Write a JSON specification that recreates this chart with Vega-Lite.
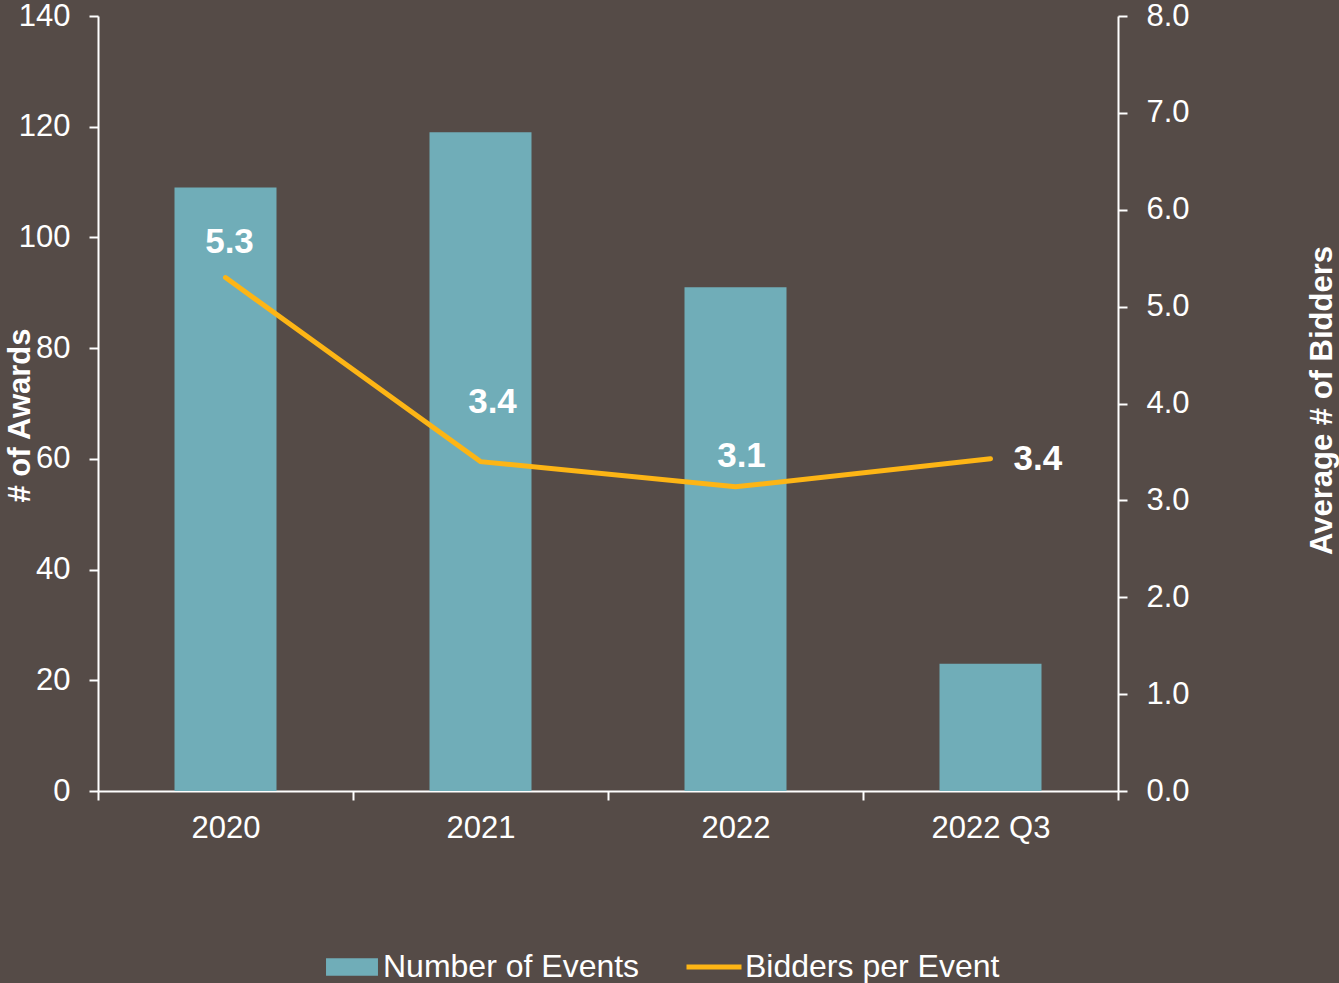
{
  "$schema": "https://vega.github.io/schema/vega-lite/v6.json",
  "width": 1020,
  "height": 775,
  "autosize": "none",
  "padding": {"left": 98, "top": 16, "right": 221, "bottom": 192},
  "background": "#554B47",
  "config": {
    "view": {"stroke": null},
    "font": "Liberation Sans",
    "axis": {
      "domainColor": "#FFFFFF", "domainWidth": 2,
      "tickColor": "#FFFFFF", "tickWidth": 2, "tickSize": 9,
      "labelColor": "#FFFFFF", "labelFont": "Liberation Sans", "labelFontSize": 31,
      "titleColor": "#FFFFFF", "titleFont": "Liberation Sans", "titleFontSize": 31, "titleFontWeight": "bold",
      "grid": false
    },
    "legend": {
      "labelColor": "#FFFFFF", "labelFont": "Liberation Sans", "labelFontSize": 32, "labelLimit": 600
    }
  },
  "data": {
    "values": [
      {"period": "2020", "events": 109, "bidders": 5.3},
      {"period": "2021", "events": 119, "bidders": 3.4},
      {"period": "2022", "events": 91, "bidders": 3.14},
      {"period": "2022 Q3", "events": 23, "bidders": 3.43}
    ]
  },
  "encoding": {
    "x": {
      "field": "period", "type": "nominal", "sort": null,
      "scale": {"paddingInner": 0, "paddingOuter": 0},
      "axis": {"title": null, "labelAngle": 0, "tickBand": "extent", "labelPadding": 13}
    }
  },
  "layer": [
    {
      "mark": {"type": "bar", "width": {"band": 0.4}},
      "encoding": {
        "y": {
          "field": "events", "type": "quantitative",
          "scale": {"domain": [0, 140]},
          "axis": {
            "title": "# of Awards", "values": [0, 20, 40, 60, 80, 100, 120, 140],
            "labelPadding": 19, "titleX": -78, "titleY": 399, "titleAngle": -90,
            "titleBaseline": "middle", "titleAlign": "center"
          }
        },
        "fill": {
          "datum": "Number of Events",
          "scale": {"range": ["#70ADB8"]},
          "legend": {
            "title": null, "orient": "none", "legendX": 238, "legendY": 935,
            "symbolType": "M-3,-1H3V1H-3Z", "symbolSize": 300, "symbolStrokeWidth": 0,
            "labelOffset": 15
          }
        }
      }
    },
    {
      "encoding": {
        "y": {
          "field": "bidders", "type": "quantitative",
          "scale": {"domain": [0, 8]},
          "axis": {
            "title": "Average # of Bidders", "orient": "right", "values": [0, 1, 2, 3, 4, 5, 6, 7, 8],
            "format": ".1f", "labelPadding": 19, "titleX": 204, "titleY": 384, "titleAngle": -90,
            "titleBaseline": "middle", "titleAlign": "center"
          }
        }
      },
      "layer": [
        {
          "mark": {"type": "line", "strokeWidth": 5, "strokeCap": "round"},
          "encoding": {
            "stroke": {
              "datum": "Bidders per Event",
              "scale": {"range": ["#FDB515"]},
              "legend": {
                "title": null, "orient": "none", "legendX": 586, "legendY": 921,
                "symbolType": "stroke", "symbolSize": 3025, "symbolStrokeWidth": 5,
                "labelOffset": 1
              }
            }
          }
        },
        {
          "transform": [{"filter": "datum.period === '2020'"}],
          "mark": {"type": "text", "fontSize": 35, "fontWeight": "bold", "color": "#FFFFFF", "dy": -36, "dx": 4, "baseline": "middle"},
          "encoding": {"text": {"field": "bidders", "format": ".1f"}}
        },
        {
          "transform": [{"filter": "datum.period === '2021'"}],
          "mark": {"type": "text", "fontSize": 35, "fontWeight": "bold", "color": "#FFFFFF", "dy": -60, "dx": 12, "baseline": "middle"},
          "encoding": {"text": {"field": "bidders", "format": ".1f"}}
        },
        {
          "transform": [{"filter": "datum.period === '2022'"}],
          "mark": {"type": "text", "fontSize": 35, "fontWeight": "bold", "color": "#FFFFFF", "dy": -31, "dx": 6, "baseline": "middle"},
          "encoding": {"text": {"field": "bidders", "format": ".1f"}}
        },
        {
          "transform": [{"filter": "datum.period === '2022 Q3'"}],
          "mark": {"type": "text", "fontSize": 35, "fontWeight": "bold", "color": "#FFFFFF", "dx": 23, "align": "left", "baseline": "middle"},
          "encoding": {"text": {"field": "bidders", "format": ".1f"}}
        }
      ]
    }
  ],
  "resolve": {"scale": {"y": "independent"}}
}
